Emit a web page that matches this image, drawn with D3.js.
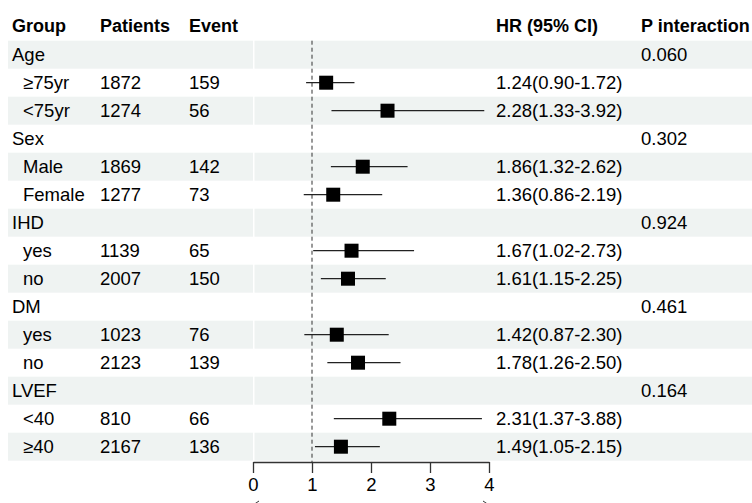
<!DOCTYPE html>
<html>
<head>
<meta charset="utf-8">
<script src="https://cdn.jsdelivr.net/npm/d3@7"></script>
<style>
  body { margin: 0; background: #fff; }
  svg { display: block; font-family: "Liberation Sans", Arial, sans-serif; }
</style>
</head>
<body>
<div id="forest"></div>
<script>
// data
var groups = ["Age", "Sex", "IHD", "DM", "LVEF"];
var pInteraction = ["0.060", "0.302", "0.924", "0.461", "0.164"];
var subgroups = [["≥75yr", "<75yr"], ["Male", "Female"], ["yes", "no"], ["yes", "no"], ["<40", "≥40"]];
var patients = [[1872, 1274], [1869, 1277], [1139, 2007], [1023, 2123], [810, 2167]];
var events = [[159, 56], [142, 73], [65, 150], [76, 139], [66, 136]];
var hr = [[1.24, 2.28], [1.86, 1.36], [1.67, 1.61], [1.42, 1.78], [2.31, 1.49]];
var lower = [[0.90, 1.33], [1.32, 0.86], [1.02, 1.15], [0.87, 1.26], [1.37, 1.05]];
var upper = [[1.72, 3.92], [2.62, 2.19], [2.73, 2.25], [2.30, 2.50], [3.88, 2.15]];
var xTicks = [0, 1, 2, 3, 4];
var headers = ["Group", "Patients", "Event", "HR (95% CI)", "P interaction"];

// flatten into table rows
var rows = [];
groups.forEach((g, i) => {
  rows.push({ label: g, indent: false, p: pInteraction[i] });
  subgroups[i].forEach((s, j) => {
    rows.push({ label: s, indent: true, n: patients[i][j], ev: events[i][j],
                hr: hr[i][j], lo: lower[i][j], hi: upper[i][j] });
  });
});

var width = 752, height = 503;
var fs = 18.5;

var svg = d3.select("#forest")
  .append("svg")
    .attr("width", width)
    .attr("height", height);

var y = d3.scaleBand()
  .domain(d3.range(rows.length))
  .range([40.7, 460.7]);

var x = d3.scaleLinear()
  .domain([0, 4])
  .range([253, 489]);

// column x positions
var colX = { group: 12, indent: 23, n: 100, ev: 189, hr: 496, p: 641 };

// row backgrounds
var bg = svg.append("g");
rows.forEach((r, i) => {
  if (i % 2 == 0) {
    bg.append("rect")
      .attr("x", 8).attr("y", y(i))
      .attr("width", x(0) - 8).attr("height", y.bandwidth())
      .attr("fill", "#eff3f2");
    bg.append("rect")
      .attr("x", x(0) + 1.5).attr("y", y(i))
      .attr("width", width - x(0) - 1.5).attr("height", y.bandwidth())
      .attr("fill", "#eff3f2");
  }
});

// headers
var hx = [colX.group, colX.n, colX.ev, colX.hr, colX.p];
svg.append("g").selectAll("text")
  .data(headers)
  .join("text")
    .attr("x", (d, i) => hx[i])
    .attr("y", 32)
    .style("font-size", "18px")
    .style("font-weight", "bold")
    .text(d => d);

// table text
var body = svg.append("g").style("font-size", fs + "px");
rows.forEach((r, i) => {
  var ty = y(i) + y.bandwidth() / 2 + 6.5;
  body.append("text").attr("x", r.indent ? colX.indent : colX.group).attr("y", ty).text(r.label);
  if (r.indent) {
    body.append("text").attr("x", colX.n).attr("y", ty).text(r.n);
    body.append("text").attr("x", colX.ev).attr("y", ty).text(r.ev);
    body.append("text").attr("x", colX.hr).attr("y", ty)
      .text(r.hr.toFixed(2) + "(" + r.lo.toFixed(2) + "-" + r.hi.toFixed(2) + ")");
  } else {
    body.append("text").attr("x", colX.p).attr("y", ty).text(r.p);
  }
});

// reference line at HR = 1
svg.append("line")
  .attr("x1", x(1)).attr("x2", x(1))
  .attr("y1", y(0)).attr("y2", 462)
  .attr("stroke", "#333")
  .attr("stroke-width", 1)
  .attr("stroke-dasharray", "4,3");

// CI lines and boxes
var marks = svg.append("g");
rows.forEach((r, i) => {
  if (!r.indent) return;
  var cy = y(i) + y.bandwidth() / 2;
  marks.append("line")
    .attr("x1", x(r.lo)).attr("x2", x(r.hi))
    .attr("y1", cy).attr("y2", cy)
    .attr("stroke", "#222")
    .attr("stroke-width", 1.2);
  marks.append("rect")
    .attr("x", x(r.hr) - 7).attr("y", cy - 7)
    .attr("width", 14).attr("height", 14)
    .attr("fill", "#000");
});

// x axis
var axis = svg.append("g")
  .attr("transform", "translate(0,462)")
  .call(d3.axisBottom(x).tickValues(xTicks).tickFormat(d3.format("d"))
    .tickSize(11).tickSizeOuter(0).tickPadding(5));
axis.select(".domain").attr("stroke", "#333").attr("stroke-width", 1.3);
axis.selectAll(".tick line").attr("stroke", "#333").attr("stroke-width", 1.3);
axis.selectAll(".tick text")
  .style("font-size", fs + "px")
  .style("font-family", "'Liberation Sans', Arial, sans-serif")
  .attr("fill", "#000");

// arrow heads below the axis (mostly cut off by the page edge)
svg.append("path")
  .attr("d", "M" + (x(0) + 6) + ",501L" + x(0) + ",505L" + (x(0) + 6) + ",509")
  .attr("fill", "none").attr("stroke", "#333");
svg.append("path")
  .attr("d", "M" + (x(4) - 6) + ",501L" + x(4) + ",505L" + (x(4) - 6) + ",509")
  .attr("fill", "none").attr("stroke", "#333");
</script>
</body>
</html>
